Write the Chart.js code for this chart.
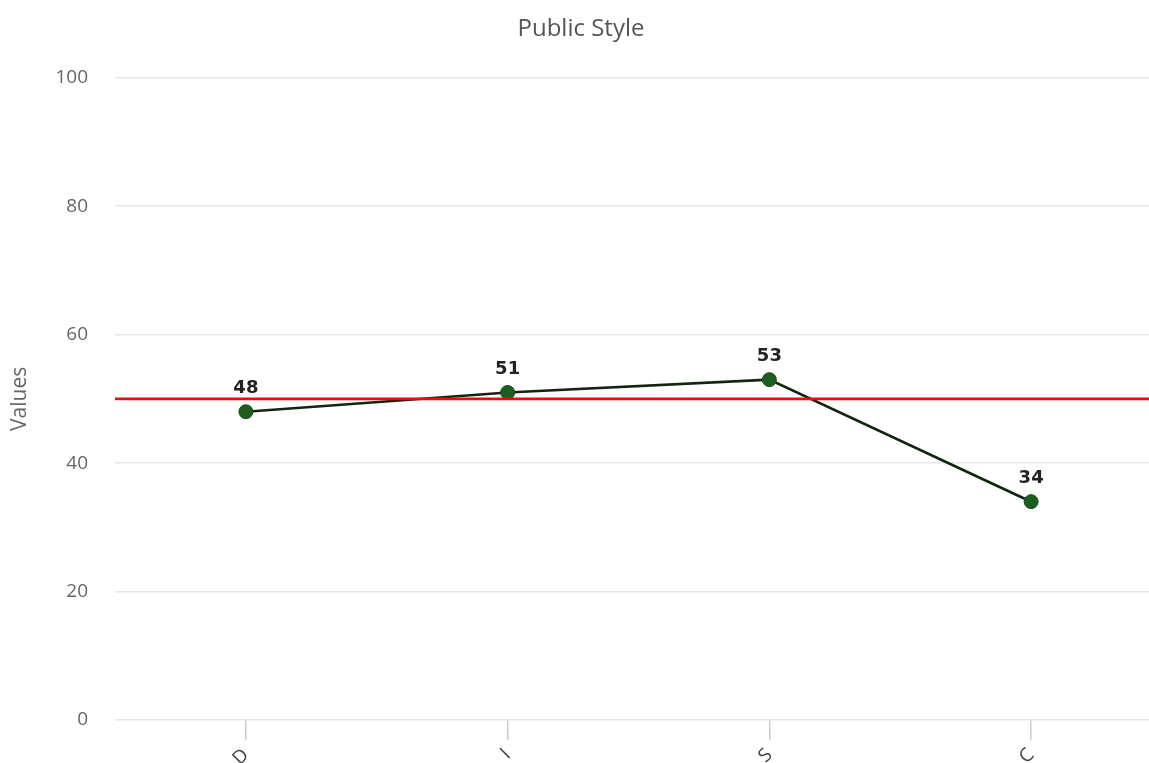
<!DOCTYPE html>
<html>
<head>
<meta charset="utf-8">
<title>Public Style</title>
<script src="https://cdn.jsdelivr.net/npm/chart.js@4.4.1/dist/chart.umd.min.js"></script>
<style>
  html, body { margin: 0; padding: 0; background: #ffffff; overflow: hidden; }
  #wrap { position: absolute; left: 0; top: 0; width: 1162px; height: 775px; }
</style>
</head>
<body>
<div id="wrap"><canvas id="chart" width="1162" height="775"></canvas></div>
<script>
// DISC profile scores
const categories = ['D', 'I', 'S', 'C'];
const scores = [48, 51, 53, 34];
const midline = 50;
const yTicks = [0, 20, 40, 60, 80, 100];

// Horizontal reference line across the whole plot area
const midlinePlugin = {
  id: 'midline',
  afterDatasetsDraw(chart) {
    const { ctx, chartArea, scales } = chart;
    const y = scales.y.getPixelForValue(midline);
    ctx.save();
    ctx.strokeStyle = '#e3100f';
    ctx.lineWidth = 2.8;
    ctx.beginPath();
    ctx.moveTo(chartArea.left, y);
    ctx.lineTo(chartArea.right, y);
    ctx.stroke();
    ctx.restore();
  }
};

// Value text above each point
const valueLabelPlugin = {
  id: 'valueLabels',
  afterDatasetsDraw(chart) {
    const { ctx } = chart;
    const meta = chart.getDatasetMeta(0);
    ctx.save();
    ctx.font = 'bold 18px "DejaVu Sans", Verdana, sans-serif';
    ctx.fillStyle = '#222222';
    ctx.textAlign = 'center';
    ctx.textBaseline = 'bottom';
    meta.data.forEach((pt, i) => {
      ctx.fillText(String(chart.data.datasets[0].data[i]), pt.x, pt.y - 14);
    });
    ctx.restore();
  }
};

new Chart(document.getElementById('chart'), {
  type: 'line',
  data: {
    labels: categories,
    datasets: [{
      label: 'Public Style',
      data: scores,
      borderColor: '#112511',
      borderWidth: 2.7,
      backgroundColor: '#1b5e20',
      pointBackgroundColor: '#1b5e20',
      pointBorderColor: '#174f1b',
      pointBorderWidth: 1,
      pointRadius: 7,
      tension: 0,
      fill: false
    }]
  },
  options: {
    responsive: false,
    animation: false,
    devicePixelRatio: 1,
    layout: { autoPadding: false, padding: { left: 0, right: 0, top: 0, bottom: 0 } },
    plugins: {
      legend: { display: false },
      tooltip: { enabled: false },
      title: {
        display: true,
        text: 'Public Style',
        color: '#555555',
        font: { family: '"Open Sans", sans-serif', size: 24, weight: 'normal' },
        padding: { top: 15, bottom: 34 }
      }
    },
    scales: {
      x: {
        offset: true,
        border: { display: false },
        grid: {
          display: true,
          drawOnChartArea: false,
          drawTicks: true,
          tickLength: 20,
          color: '#cccccc',
          lineWidth: 1.5
        },
        ticks: {
          color: '#444444',
          font: { family: '"Open Sans", sans-serif', size: 19 },
          minRotation: 45,
          maxRotation: 45,
          padding: 4
        },
        afterFit(scale) {
          scale.height = 55;
          scale.paddingLeft = 0;
          scale.paddingRight = 0;
        }
      },
      y: {
        min: 0,
        max: 100,
        border: { display: false },
        grid: {
          color: '#e6e6e6',
          lineWidth: 1.5,
          drawTicks: false
        },
        afterBuildTicks(scale) { scale.ticks = yTicks.map(v => ({ value: v })); },
        ticks: {
          color: '#666666',
          font: { family: '"Open Sans", sans-serif', size: 19 },
          padding: 27
        },
        title: {
          display: true,
          text: 'Values',
          color: '#666666',
          font: { family: '"Open Sans", sans-serif', size: 21 },
          padding: { top: 7, bottom: 4 }
        },
        afterFit(scale) {
          scale.width = 115;
          scale.paddingTop = 0;
          scale.paddingBottom = 0;
        }
      }
    }
  },
  plugins: [midlinePlugin, valueLabelPlugin]
});
</script>
</body>
</html>
